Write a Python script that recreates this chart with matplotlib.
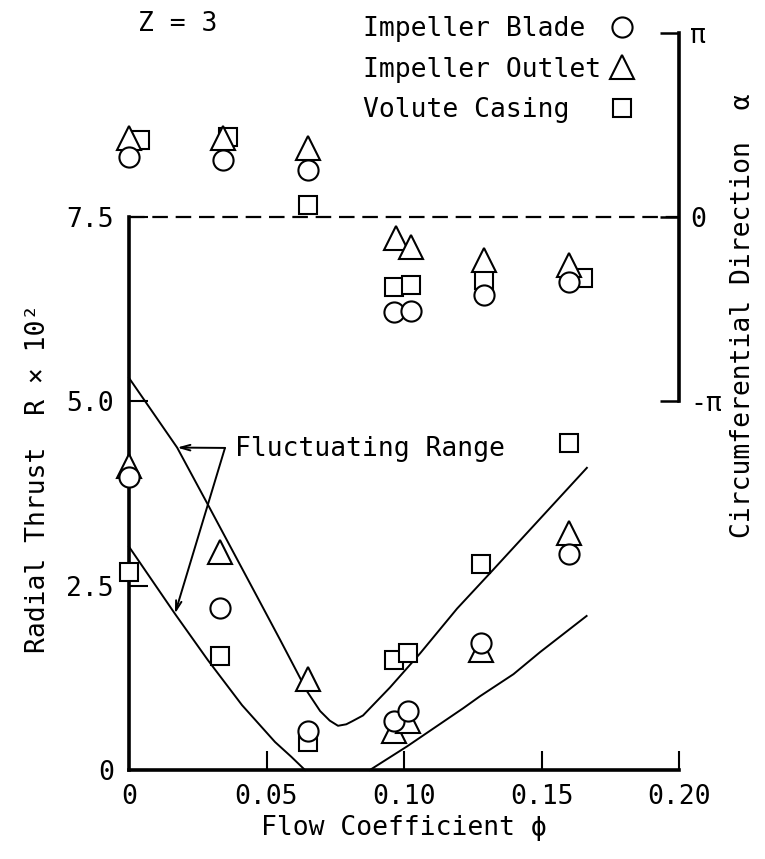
import numpy as np
import matplotlib
matplotlib.use("Agg")
import matplotlib.pyplot as plt
from matplotlib.lines import Line2D

plt.rcParams['font.family'] = ['DejaVu Sans Mono', 'DejaVu Sans']

# ---------------- data ----------------
# Radial thrust R x 10^2 (lower part)
phi_blade = [0.0, 0.033, 0.065, 0.0965, 0.1015, 0.128, 0.160]
R_blade = [3.97, 2.20, 0.53, 0.67, 0.80, 1.72, 2.93]
phi_outlet = [0.0, 0.033, 0.065, 0.0965, 0.1015, 0.128, 0.160]
R_outlet = [4.12, 2.96, 1.23, 0.53, 0.66, 1.63, 3.22]
phi_volute = [0.0, 0.033, 0.065, 0.0965, 0.1015, 0.128, 0.160]
R_volute = [2.69, 1.55, 0.38, 1.49, 1.59, 2.79, 4.44]

# Circumferential direction alpha (upper part), in units of pi
phia_blade = [0.0, 0.034, 0.065, 0.0965, 0.1025, 0.129, 0.160]
a_blade = [0.328, 0.31, 0.258, -0.516, -0.51, -0.42, -0.35]
phia_outlet = [0.0, 0.034, 0.065, 0.097, 0.1025, 0.129, 0.160]
a_outlet = [0.43, 0.43, 0.376, -0.113, -0.16, -0.23, -0.26]
phia_volute = [0.004, 0.036, 0.065, 0.0965, 0.1025, 0.129, 0.165]
a_volute = [0.42, 0.435, 0.065, -0.376, -0.37, -0.34, -0.33]

# Fluctuating range curves
up_phi = [0.0, 0.0175, 0.0287, 0.0469, 0.0549, 0.0615, 0.0647, 0.0695,
          0.0730, 0.0760, 0.0790, 0.0811, 0.0851, 0.0949, 0.1058, 0.1193,
          0.1320, 0.1665]
up_R = [5.32, 4.375, 3.60, 2.33, 1.77, 1.30, 1.07, 0.80,
        0.67, 0.60, 0.62, 0.66, 0.74, 1.12, 1.58, 2.19,
        2.70, 4.10]
lo1_phi = [0.0, 0.0167, 0.0287, 0.0411, 0.0531, 0.0590, 0.064]
lo1_R = [3.03, 2.12, 1.49, 0.88, 0.38, 0.18, 0.0]
lo2_phi = [0.0876, 0.1011, 0.1216, 0.1276, 0.1398, 0.1495, 0.1664]
lo2_R = [0.0, 0.32, 0.84, 1.00, 1.30, 1.60, 2.09]

xticks = [0, 0.05, 0.10, 0.15, 0.20]
xticklabels = ["0", "0.05", "0.10", "0.15", "0.20"]
yticks = [0, 2.5, 5.0, 7.5]
yticklabels = ["0", "2.5", "5.0", "7.5"]
aticks = [-1, 0, 1]
aticklabels = ["-π", "0", "π"]

# ---------------- figure ----------------
W, H = 765, 859
fig = plt.figure(figsize=(W / 100, H / 100), dpi=100)
x0, x1 = 129, 679
yb, yt = 770, 5
ax = fig.add_axes([x0 / W, (H - yb) / H, (x1 - x0) / W, (yb - yt) / H])
ytop = (yb - yt) / 73.7
ax.set_xlim(0, 0.20)
ax.set_ylim(0, ytop)

# twin axis for alpha (in units of pi): alpha=0 at R=7.5, alpha=pi at R=10
ax2 = ax.twinx()
ax2.set_ylim((0 - 7.5) / 2.5, (ytop - 7.5) / 2.5)

FS = 19
lw_sp = 2.6
for a in (ax, ax2):
    a.spines['top'].set_visible(False)
    a.patch.set_visible(False)
ax.spines['right'].set_visible(False)
ax2.spines['left'].set_visible(False)
ax2.spines['bottom'].set_visible(False)
ax.spines['left'].set_bounds(0, 7.5)
ax.spines['bottom'].set_bounds(0, 0.20)
ax2.spines['right'].set_bounds(-1, 1)
for s in (ax.spines['left'], ax.spines['bottom'], ax2.spines['right']):
    s.set_linewidth(lw_sp)

ax.set_xticks(xticks)
ax.set_xticklabels(xticklabels)
ax.set_yticks(yticks)
ax.set_yticklabels(yticklabels)
ax.tick_params(axis='both', direction='in', length=14, width=1.5,
               labelsize=FS, pad=10)
ax.tick_params(axis='y', pad=11)
ax2.set_yticks(aticks)
ax2.set_yticklabels(aticklabels)
ax2.tick_params(axis='y', direction='in', length=14, width=1.8,
                labelsize=FS, pad=8)

# zero-direction dashed line
ax.plot([0, 0.20], [7.5, 7.5], color='black', lw=1.6,
        dashes=(7, 3.5), clip_on=False)

# curves
for px, py in ((up_phi, up_R), (lo1_phi, lo1_R), (lo2_phi, lo2_R)):
    ax.plot(px, py, color='black', lw=1.4, clip_on=False,
            solid_joinstyle='round')

mk = dict(markerfacecolor='white', markeredgecolor='black',
          markeredgewidth=1.5, linestyle='none')
# lower points
ax.plot(phi_volute, R_volute, marker='s', markersize=13, zorder=3, clip_on=False, **mk)
ax.plot(phi_outlet, R_outlet, marker='^', markersize=17, zorder=4, clip_on=False, **mk)
ax.plot(phi_blade, R_blade, marker='o', markersize=14.5, zorder=5, clip_on=False, **mk)
# upper points
ax2.plot(phia_volute, a_volute, marker='s', markersize=13, zorder=3, clip_on=False, **mk)
ax2.plot(phia_outlet, a_outlet, marker='^', markersize=17, zorder=4, clip_on=False, **mk)
ax2.plot(phia_blade, a_blade, marker='o', markersize=14.5, zorder=5, clip_on=False, **mk)

# labels
ax.set_xlabel("Flow Coefficient ϕ", fontsize=FS, labelpad=4)
fig.text(38 / W, 1 - 478 / H, "Radial Thrust  R × 10²", rotation=90,
         fontsize=FS, ha='center', va='center')
fig.text(743 / W, 1 - 316 / H, "Circumferential Direction  α", rotation=90,
         fontsize=FS, ha='center', va='center')
fig.text(178 / W, 1 - 24 / H, "Z = 3", fontsize=FS, ha='center', va='center')

# fluctuating range annotation
ax.text(0.0385, 4.35, "Fluctuating Range", fontsize=FS, ha='left',
        va='center')
for tgt in ((up_phi[1], up_R[1]), (lo1_phi[1], lo1_R[1])):
    ax.annotate("", xy=tgt, xytext=(0.0349, 4.37),
                arrowprops=dict(arrowstyle='->,head_length=0.7,head_width=0.2',
                                color='black', lw=1.4, shrinkA=0, shrinkB=0))

# legend
handles = [
    Line2D([], [], marker='o', markersize=14.5, **mk),
    Line2D([], [], marker='^', markersize=17, **mk),
    Line2D([], [], marker='s', markersize=13, **mk),
]
labels = ["Impeller Blade ", "Impeller Outlet", "Volute Casing  "]
fig.legend(handles, labels, loc='upper left', markerfirst=False,
           frameon=False, fontsize=FS, bbox_to_anchor=(363 / W, 1 - 16 / H),
           bbox_transform=fig.transFigure, borderpad=0, borderaxespad=0,
           labelspacing=0.55, handlelength=1.0, handletextpad=0.3)

fig.savefig("out.png", dpi=100)
